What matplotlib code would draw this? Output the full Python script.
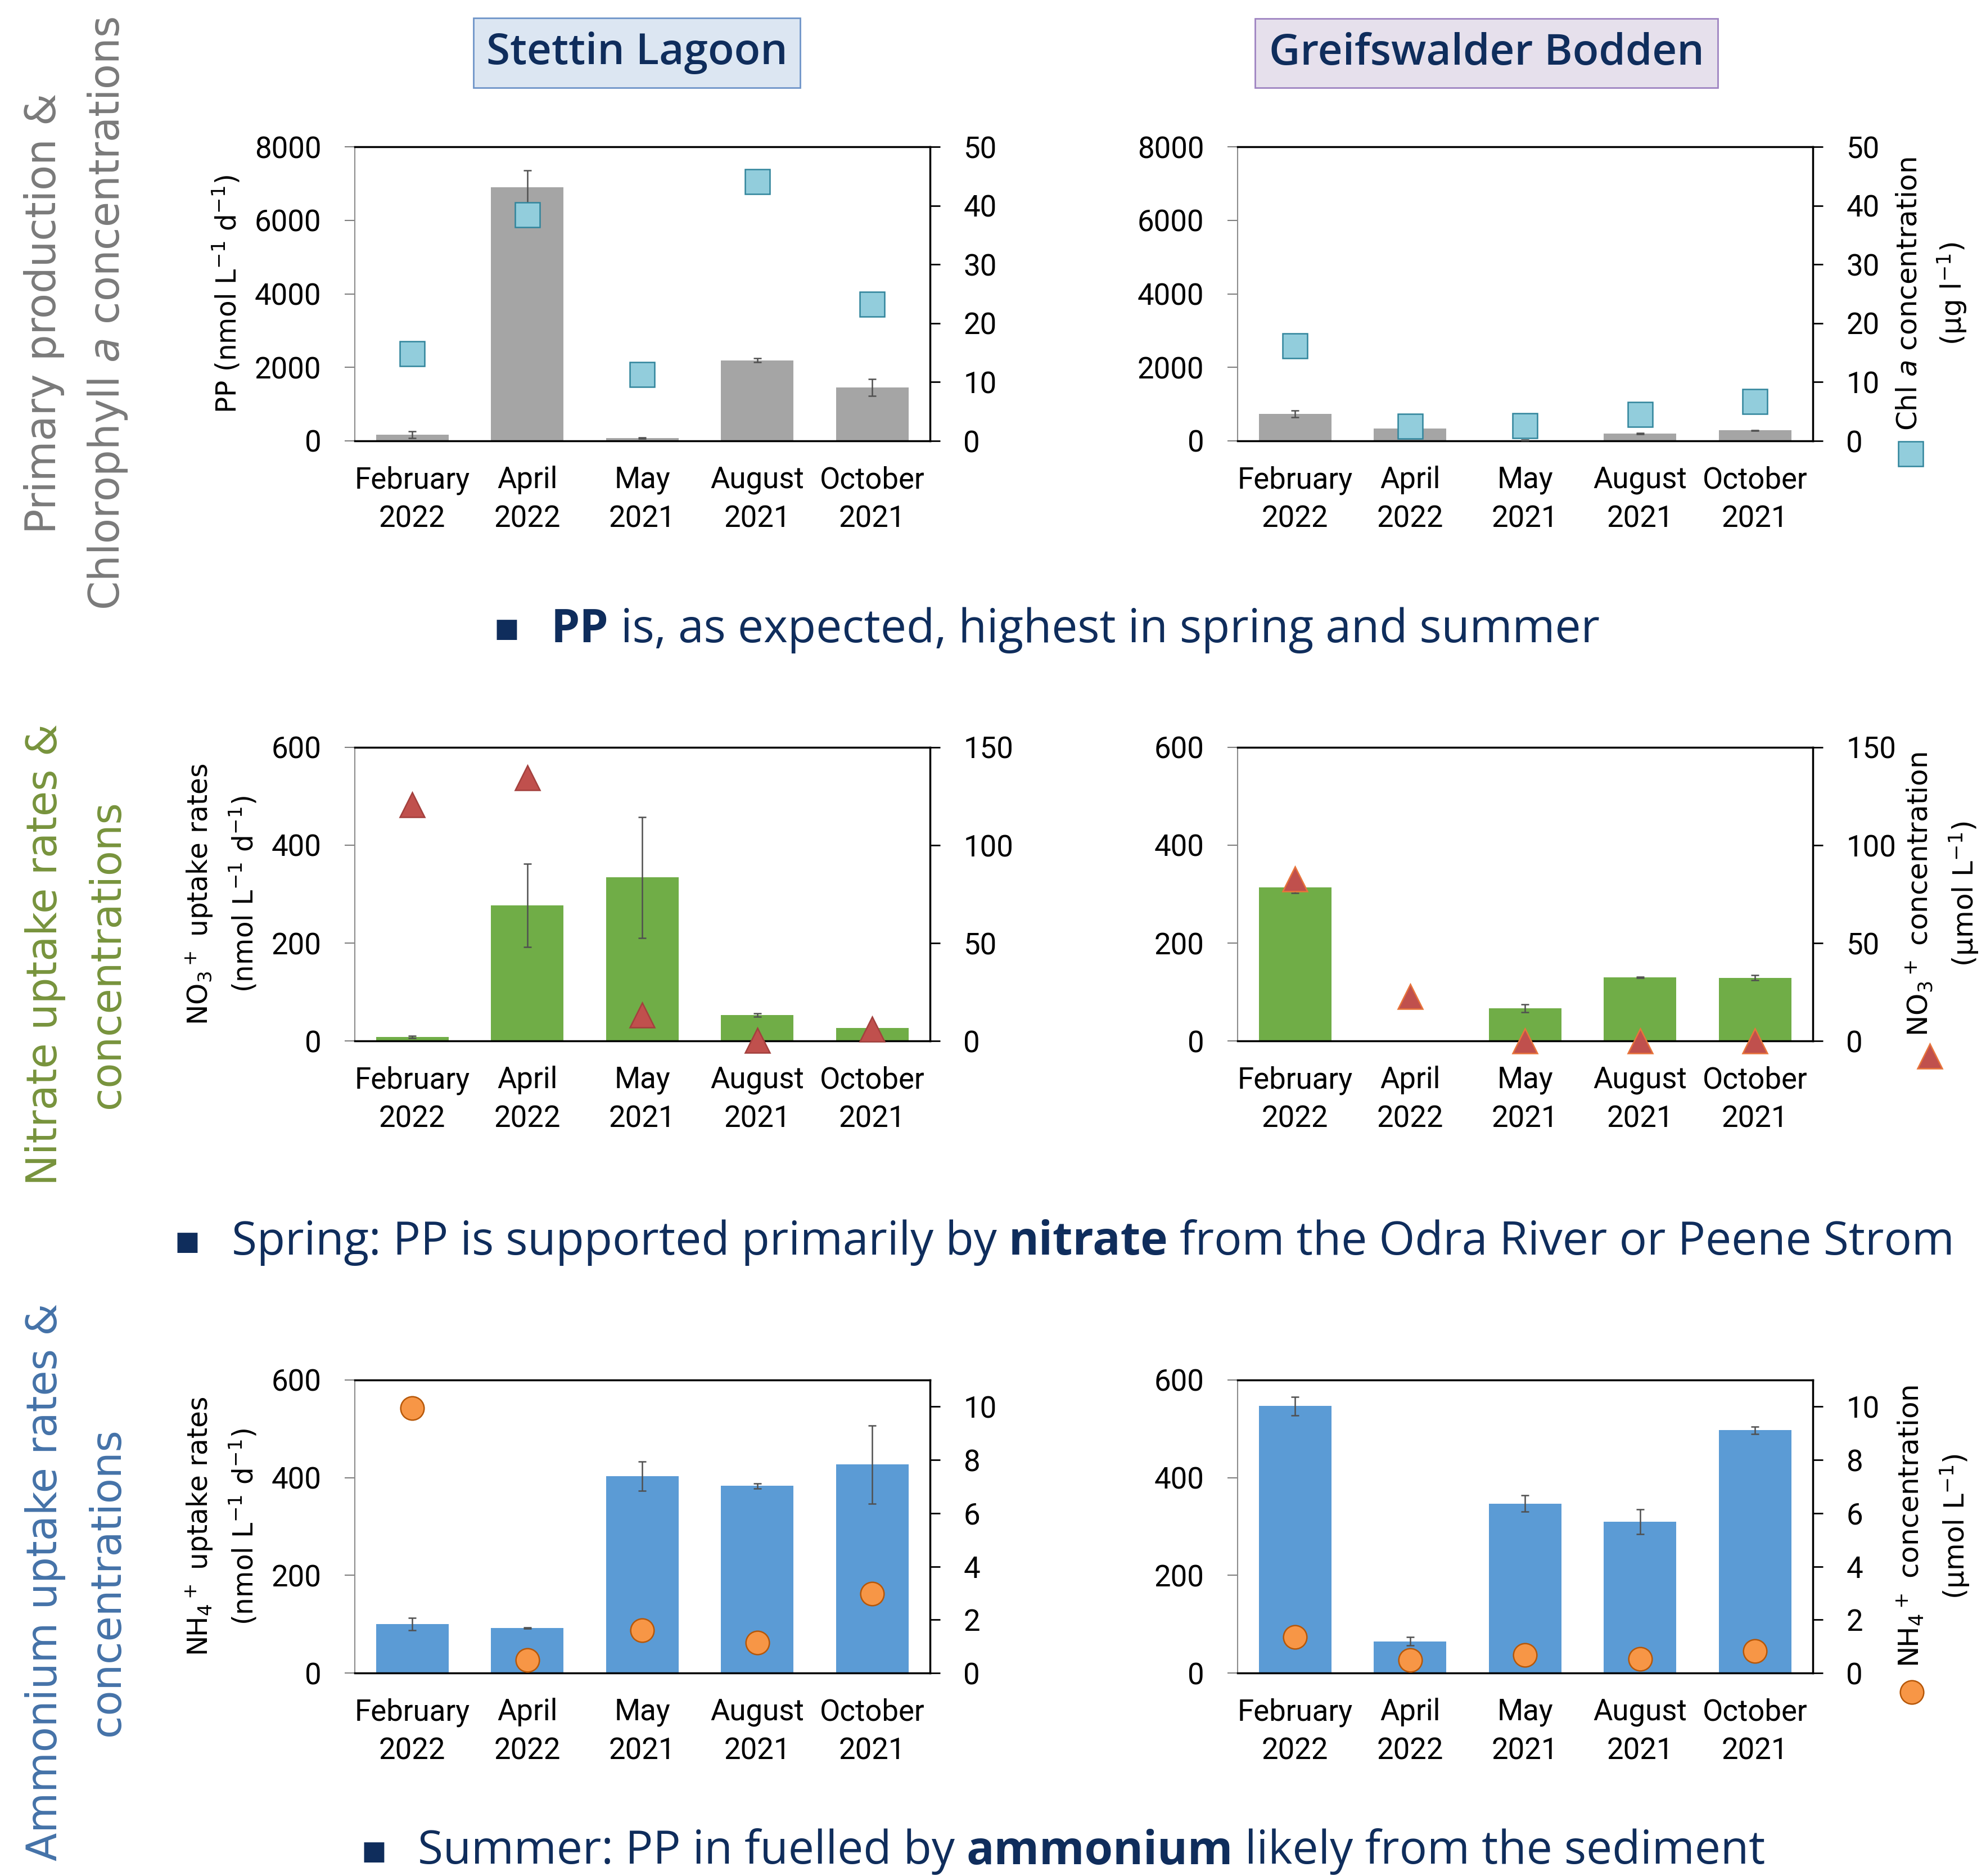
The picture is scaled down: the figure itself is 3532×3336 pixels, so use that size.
import matplotlib
matplotlib.use('Agg')
import matplotlib.pyplot as plt
from matplotlib.lines import Line2D
from matplotlib.patches import Rectangle
import numpy as np

months = ['February\n2022', 'April\n2022', 'May\n2021', 'August\n2021', 'October\n2021']

# Stettin Lagoon
sl_pp = [166, 6900, 75, 2195, 1455]
sl_pp_err = [90, 450, 20, 55, 225]
sl_chl = [14.8, 38.4, 11.3, 44.1, 23.2]
sl_no3_up = [8, 277, 334, 53, 26]
sl_no3_up_err = [2, 85, 124, 3, 0]
sl_no3 = [120.7, 134.6, 13.2, 0.4, 6.0]
sl_nh4_up = [100, 92, 403, 383, 427]
sl_nh4_up_err = [13, 1, 30, 5, 80]
sl_nh4 = [9.95, 0.49, 1.6, 1.14, 2.97]

# Greifswalder Bodden
gb_pp = [733, 332, 20, 205, 283]
gb_pp_err = [90, 0, 8, 15, 12]
gb_chl = [16.2, 2.44, 2.6, 4.46, 6.7]
gb_no3_up = [314, 0, 67, 130, 129]
gb_no3_up_err = [12, 0, 8, 1, 5]
gb_no3 = [82.8, 22.7, 0, 0, 0]
gb_nh4_up = [547, 65, 347, 310, 497]
gb_nh4_up_err = [19, 9, 17, 25, 7]
gb_nh4 = [1.35, 0.49, 0.68, 0.52, 0.82]

plt.rcParams['font.family'] = ['Roboto', 'DejaVu Sans']
plt.rcParams['mathtext.fontset'] = 'dejavusans'

W, H = 3532, 3336
fig = plt.figure(figsize=(W / 100, H / 100), dpi=100)

def fx(px):
    return px / W

def fy(py):
    return 1 - py / H

navy = '#0f2d5c'
label_font = 'DejaVu Sans'
tick_size = 38
lab_size = 35
rlab_size = 36

def panel(rect, bars, err, pts, bar_color, marker, mfc, mec, ymax, yticks,
          y2max, y2ticks, ylabel=None, y2label=None, y2pad=20):
    ax = fig.add_axes(rect)
    x = np.arange(len(months))
    ax.bar(x, bars, width=0.63, color=bar_color, zorder=2)
    err = np.array(err, dtype=float)
    keep = err > 0
    ax.errorbar(x[keep], np.array(bars)[keep], yerr=err[keep], fmt='none',
                ecolor='#505050', elinewidth=1.8, capsize=5, capthick=1.8, zorder=3)
    ax.set_xlim(-0.5, 4.5)
    ax.set_ylim(0, ymax)
    ax.set_yticks(yticks)
    ax.set_xticks(x)
    ax.set_xticklabels(months, linespacing=1.45)
    ax.tick_params(axis='x', length=0, pad=32, labelsize=tick_size)
    ax.tick_params(axis='y', direction='out', length=13, width=1.5, pad=30,
                   labelsize=tick_size, color='#7f7f7f')
    ax.spines['left'].set_color('#8c8c8c')
    ax.spines['left'].set_linewidth(1.5)
    for s in ('top', 'bottom'):
        ax.spines[s].set_color('black')
        ax.spines[s].set_linewidth(2.5)
    ax.spines['right'].set_visible(False)
    if ylabel:
        ax.set_ylabel(ylabel, family=label_font, fontsize=lab_size, labelpad=16,
                      linespacing=1.55)

    ax2 = ax.twinx()
    ax2.plot(x, pts, linestyle='none', marker=marker, ms=31 if marker != 'o' else 30,
             mfc=mfc, mec=mec, mew=1.8, clip_on=False, zorder=4)
    ax2.set_ylim(0, y2max)
    ax2.set_yticks(y2ticks)
    ax2.tick_params(axis='y', direction='out', length=13, width=2, pad=30,
                    labelsize=tick_size, color='black')
    for s in ('top', 'bottom', 'left'):
        ax2.spines[s].set_visible(False)
    ax2.spines['right'].set_color('black')
    ax2.spines['right'].set_linewidth(2.5)
    if y2label:
        ax2.set_ylabel(y2label, family=label_font, fontsize=rlab_size, labelpad=y2pad,
                       linespacing=1.5, rotation=90)
    return ax, ax2

lx, rx, pw = fx(631), fx(2201), 0.2895
rows = [(fy(784), 523 / H), (fy(1851), 522 / H), (fy(2975), 521 / H)]

grey, green, blue = '#a5a5a5', '#70ad47', '#5b9bd5'
sq = ('s', '#92cddc', '#31859c')
tri = ('^', '#c0504d', '#a3403d')
tri_r = ('^', '#c0504d', '#e8743b')
circ = ('o', '#f79646', '#b65708')

panel([lx, rows[0][0], pw, rows[0][1]], sl_pp, sl_pp_err, sl_chl, grey, *sq,
      8000, range(0, 8001, 2000), 50, range(0, 51, 10),
      ylabel=r'PP (nmol L$^{-1}$ d$^{-1}$)')
panel([rx, rows[0][0], pw, rows[0][1]], gb_pp, gb_pp_err, gb_chl, grey, *sq,
      8000, range(0, 8001, 2000), 50, range(0, 51, 10),
      y2label='Chl $\\it{a}$ concentration\n(µg l$^{-1}$)')
panel([lx, rows[1][0], pw, rows[1][1]], sl_no3_up, sl_no3_up_err, sl_no3, green, *tri,
      600, range(0, 601, 200), 150, range(0, 151, 50),
      ylabel='NO$_3$$^+$ uptake rates\n(nmol L$^{-1}$ d$^{-1}$)')
panel([rx, rows[1][0], pw, rows[1][1]], gb_no3_up, gb_no3_up_err, gb_no3, green, *tri_r,
      600, range(0, 601, 200), 150, range(0, 151, 50),
      y2label='NO$_3$$^+$ concentration\n(µmol L$^{-1}$)', y2pad=10)
panel([lx, rows[2][0], pw, rows[2][1]], sl_nh4_up, sl_nh4_up_err, sl_nh4, blue, *circ,
      600, range(0, 601, 200), 11, range(0, 11, 2),
      ylabel='NH$_4$$^+$ uptake rates\n(nmol L$^{-1}$ d$^{-1}$)')
panel([rx, rows[2][0], pw, rows[2][1]], gb_nh4_up, gb_nh4_up_err, gb_nh4, blue, *circ,
      600, range(0, 601, 200), 11, range(0, 11, 2),
      y2label='NH$_4$$^+$ concentration\n(µmol L$^{-1}$)')

# legend keys beside the right axis titles
for m, (px, py) in zip([sq, tri_r, circ], [(3398, 808), (3432, 1879), (3400, 3010)]):
    h = Line2D([], [], ls='none', marker=m[0], ms=31 if m[0] != 'o' else 30,
               mfc=m[1], mec=m[2], mew=1.8)
    fig.legend(handles=[h], labels=[''], loc='center', bbox_to_anchor=(fx(px), fy(py)),
               frameon=False, handlelength=0.8, handletextpad=0, borderpad=0,
               borderaxespad=0)

# site header boxes
for txt, (x0, y0, x1, y1), fc, ec in [
        ('Stettin Lagoon', (842, 32, 1423, 156), '#dce6f2', '#6f95c9'),
        ('Greifswalder Bodden', (2232, 33, 3055, 156), '#e6e0ec', '#9f84c2')]:
    fig.patches.append(Rectangle((fx(x0), fy(y1)), fx(x1) - fx(x0), fy(y0) - fy(y1),
                                 transform=fig.transFigure, fc=fc, ec=ec, lw=2))
    fig.text((fx(x0) + fx(x1)) / 2, (fy(y0) + fy(y1)) / 2, txt, ha='center', va='center',
             fontsize=55, fontweight='semibold', family=['Open Sans', 'DejaVu Sans'],
             color=navy)

# row titles
row_titles = [
    ('Primary production &\nChlorophyll $\\it{a}$ concentrations', '#7a7a7a', 557),
    ('Nitrate uptake rates &\nconcentrations', '#77933c', 1697),
    ('Ammonium uptake rates &\nconcentrations', '#4472a8', 2813),
]
for txt, col, py in row_titles:
    fig.text(fx(136), fy(py), txt, rotation=90, ha='center', va='center',
             multialignment='center', family='DejaVu Sans', fontsize=53, color=col,
             linespacing=1.65)

# bullet statements
bg = fig.add_axes([0, 0, 1, 1])
bg.set_xlim(0, 1)
bg.set_ylim(0, 1)
bg.axis('off')
bullet_font = ['Open Sans', 'DejaVu Sans']
bsize = 59
statements = [
    ((901, 980, 1120), [('PP', 'bold'), ('is, as expected, highest in spring and summer', 'normal')]),
    ((333, 412, 2210), [('Spring: PP is supported primarily by', 'normal'), ('nitrate', 'bold'),
                        ('from the Odra River or Peene Strom', 'normal')]),
    ((665, 743, 3293), [('Summer: PP in fuelled by', 'normal'), ('ammonium', 'bold'),
                        ('likely from the sediment', 'normal')]),
]
for (bx, tx, py), parts in statements:
    bg.text(fx(bx), fy(py), '\u25aa', ha='center', va='center', fontsize=52,
            family='DejaVu Sans', color=navy)
    prev = bg.text(fx(tx), fy(py), parts[0][0], ha='left', va='center',
                   fontsize=bsize, fontweight=parts[0][1], family=bullet_font, color=navy)
    for s, wgt in parts[1:]:
        prev = bg.annotate(s, xy=(1, 0), xycoords=prev, xytext=(15, 0),
                           textcoords='offset points', ha='left', va='bottom',
                           fontsize=bsize, fontweight=wgt, family=bullet_font, color=navy)

fig.savefig('out.png', dpi=100)
